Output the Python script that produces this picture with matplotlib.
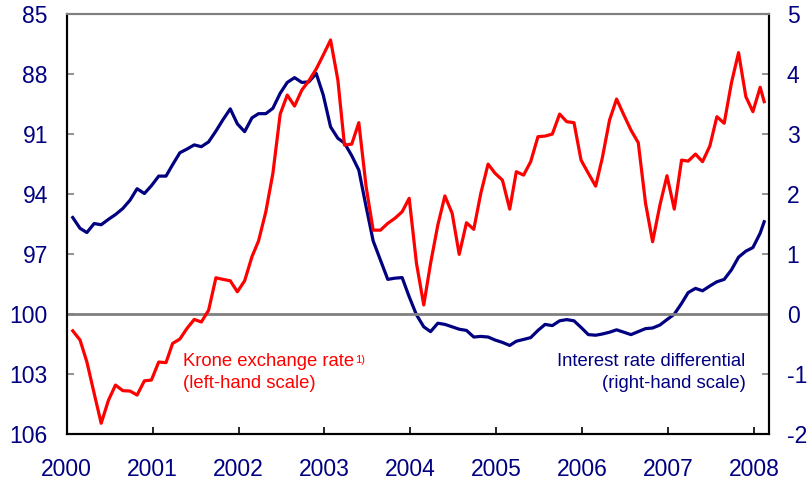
import numpy as np
import pandas as pd
import matplotlib
matplotlib.use("Agg")
import matplotlib.pyplot as plt

plt.rcParams['font.family'] = ['Liberation Sans', 'DejaVu Sans']
plt.rcParams['axes.unicode_minus'] = False

# monthly observations Jan 2000 - Jan 2008, plus one mid-February 2008 reading
dates = pd.DatetimeIndex(pd.date_range("2000-01-01", "2008-01-01", freq="MS") + pd.Timedelta(days=26))
dates = dates.append(pd.DatetimeIndex(["2008-02-13"]))

krone = [100.83, 101.29, 102.38, 103.95, 105.45, 104.30, 103.54, 103.82, 103.84, 104.04,
         103.33, 103.29, 102.39, 102.42, 101.46, 101.24, 100.71, 100.26, 100.39, 99.80,
         98.18, 98.26, 98.33, 98.88, 98.33, 97.13, 96.34, 94.88, 92.96, 90.00,
         89.05, 89.60, 88.80, 88.33, 87.75, 87.05, 86.30, 88.30, 91.55, 91.50,
         90.43, 93.63, 95.80, 95.80, 95.46, 95.21, 94.88, 94.21, 97.46, 99.54,
         97.46, 95.54, 94.09, 94.96, 97.01, 95.43, 95.76, 93.96, 92.50, 92.96,
         93.30, 94.75, 92.88, 93.05, 92.38, 91.13, 91.10, 91.00, 90.00, 90.38,
         90.43, 92.30, 92.96, 93.60, 92.21, 90.30, 89.25, 90.05, 90.80, 91.43,
         94.46, 96.38, 94.55, 93.08, 94.75, 92.30, 92.35, 92.00, 92.38, 91.60,
         90.13, 90.46, 88.43, 86.93, 89.13, 89.88, 88.66, 89.38]

rate_diff = [1.61, 1.43, 1.36, 1.51, 1.49, 1.58, 1.66, 1.76, 1.90, 2.09,
             2.01, 2.14, 2.30, 2.30, 2.49, 2.69, 2.75, 2.82, 2.79, 2.87,
             3.05, 3.24, 3.42, 3.17, 3.04, 3.27, 3.34, 3.34, 3.43, 3.68,
             3.86, 3.94, 3.86, 3.87, 4.01, 3.65, 3.12, 2.93, 2.85, 2.64,
             2.40, 1.79, 1.22, 0.90, 0.58, 0.60, 0.61, 0.29, -0.01, -0.21,
             -0.29, -0.15, -0.17, -0.21, -0.25, -0.27, -0.38, -0.37, -0.38, -0.43,
             -0.47, -0.52, -0.45, -0.42, -0.39, -0.27, -0.17, -0.19, -0.11, -0.09,
             -0.11, -0.22, -0.34, -0.35, -0.33, -0.30, -0.26, -0.30, -0.34, -0.29,
             -0.24, -0.23, -0.18, -0.09, 0.00, 0.18, 0.36, 0.43, 0.39, 0.47,
             0.54, 0.58, 0.74, 0.95, 1.05, 1.11, 1.35, 1.54]

years = list(range(2000, 2009))
left_ticks = [85, 88, 91, 94, 97, 100, 103, 106]
right_ticks = [5, 4, 3, 2, 1, 0, -1, -2]

NAVY = '#000080'
RED = '#ff0000'
GREY = '#808080'

# decimal years for the x axis
x = dates.year + (dates.dayofyear - 1) / np.where(dates.is_leap_year, 366, 365)

fig = plt.figure(figsize=(8.1, 4.86), dpi=100)
ax = fig.add_axes([0.0823, 0.1064, 0.9490 - 0.0823, 0.9712 - 0.1064])
ax2 = ax.twinx()

# red line drawn over the blue one
ax.set_zorder(ax2.get_zorder() + 1)
ax.patch.set_visible(False)

ax.axhline(100, color=GREY, lw=2, zorder=1)
ax.plot(x, krone, color=RED, lw=2.3, zorder=3)
ax2.plot(x, rate_diff, color=NAVY, lw=2.3)

ax.set_xlim(2000, 2008.17)
ax.set_ylim(106, 85)
ax2.set_ylim(-2, 5)

ax.set_yticks(left_ticks)
ax2.set_yticks(right_ticks)
ax.set_xticks(years)
ax.set_xticklabels([str(y) for y in years])

ax.tick_params(axis='y', direction='in', length=5, width=1.2, color=GREY,
               labelcolor=NAVY, labelsize=16.5, pad=13.5)
ax2.tick_params(axis='y', direction='in', length=5, width=1.2, color=GREY,
                labelcolor=NAVY, labelsize=16.5, pad=13)
ax.tick_params(axis='x', direction='in', length=5, width=1.2, color='black',
               labelcolor=NAVY, labelsize=16.5, pad=17)

for a in (ax, ax2):
    a.spines['top'].set_color(GREY)
    a.spines['top'].set_linewidth(1.5)
    for side in ('left', 'right', 'bottom'):
        a.spines[side].set_color('black')
        a.spines[side].set_linewidth(1.5)

# annotations
t = ax.text(2001.355, 102.34, 'Krone exchange rate', color=RED, fontsize=13.3,
            ha='left', va='center')
ax.annotate('1)', xy=(1, 1), xycoords=t, xytext=(0.5, -1.5), textcoords='offset points',
            color=RED, fontsize=8, ha='left', va='top')
ax.text(2001.355, 103.44, '(left-hand scale)', color=RED, fontsize=13.3,
        ha='left', va='center')

ax2.text(2007.90, -0.78, 'Interest rate differential', color=NAVY, fontsize=13.3,
         ha='right', va='center')
ax2.text(2007.90, -1.15, '(right-hand scale)', color=NAVY, fontsize=13.3,
         ha='right', va='center')

fig.savefig('out.png', dpi=100)
